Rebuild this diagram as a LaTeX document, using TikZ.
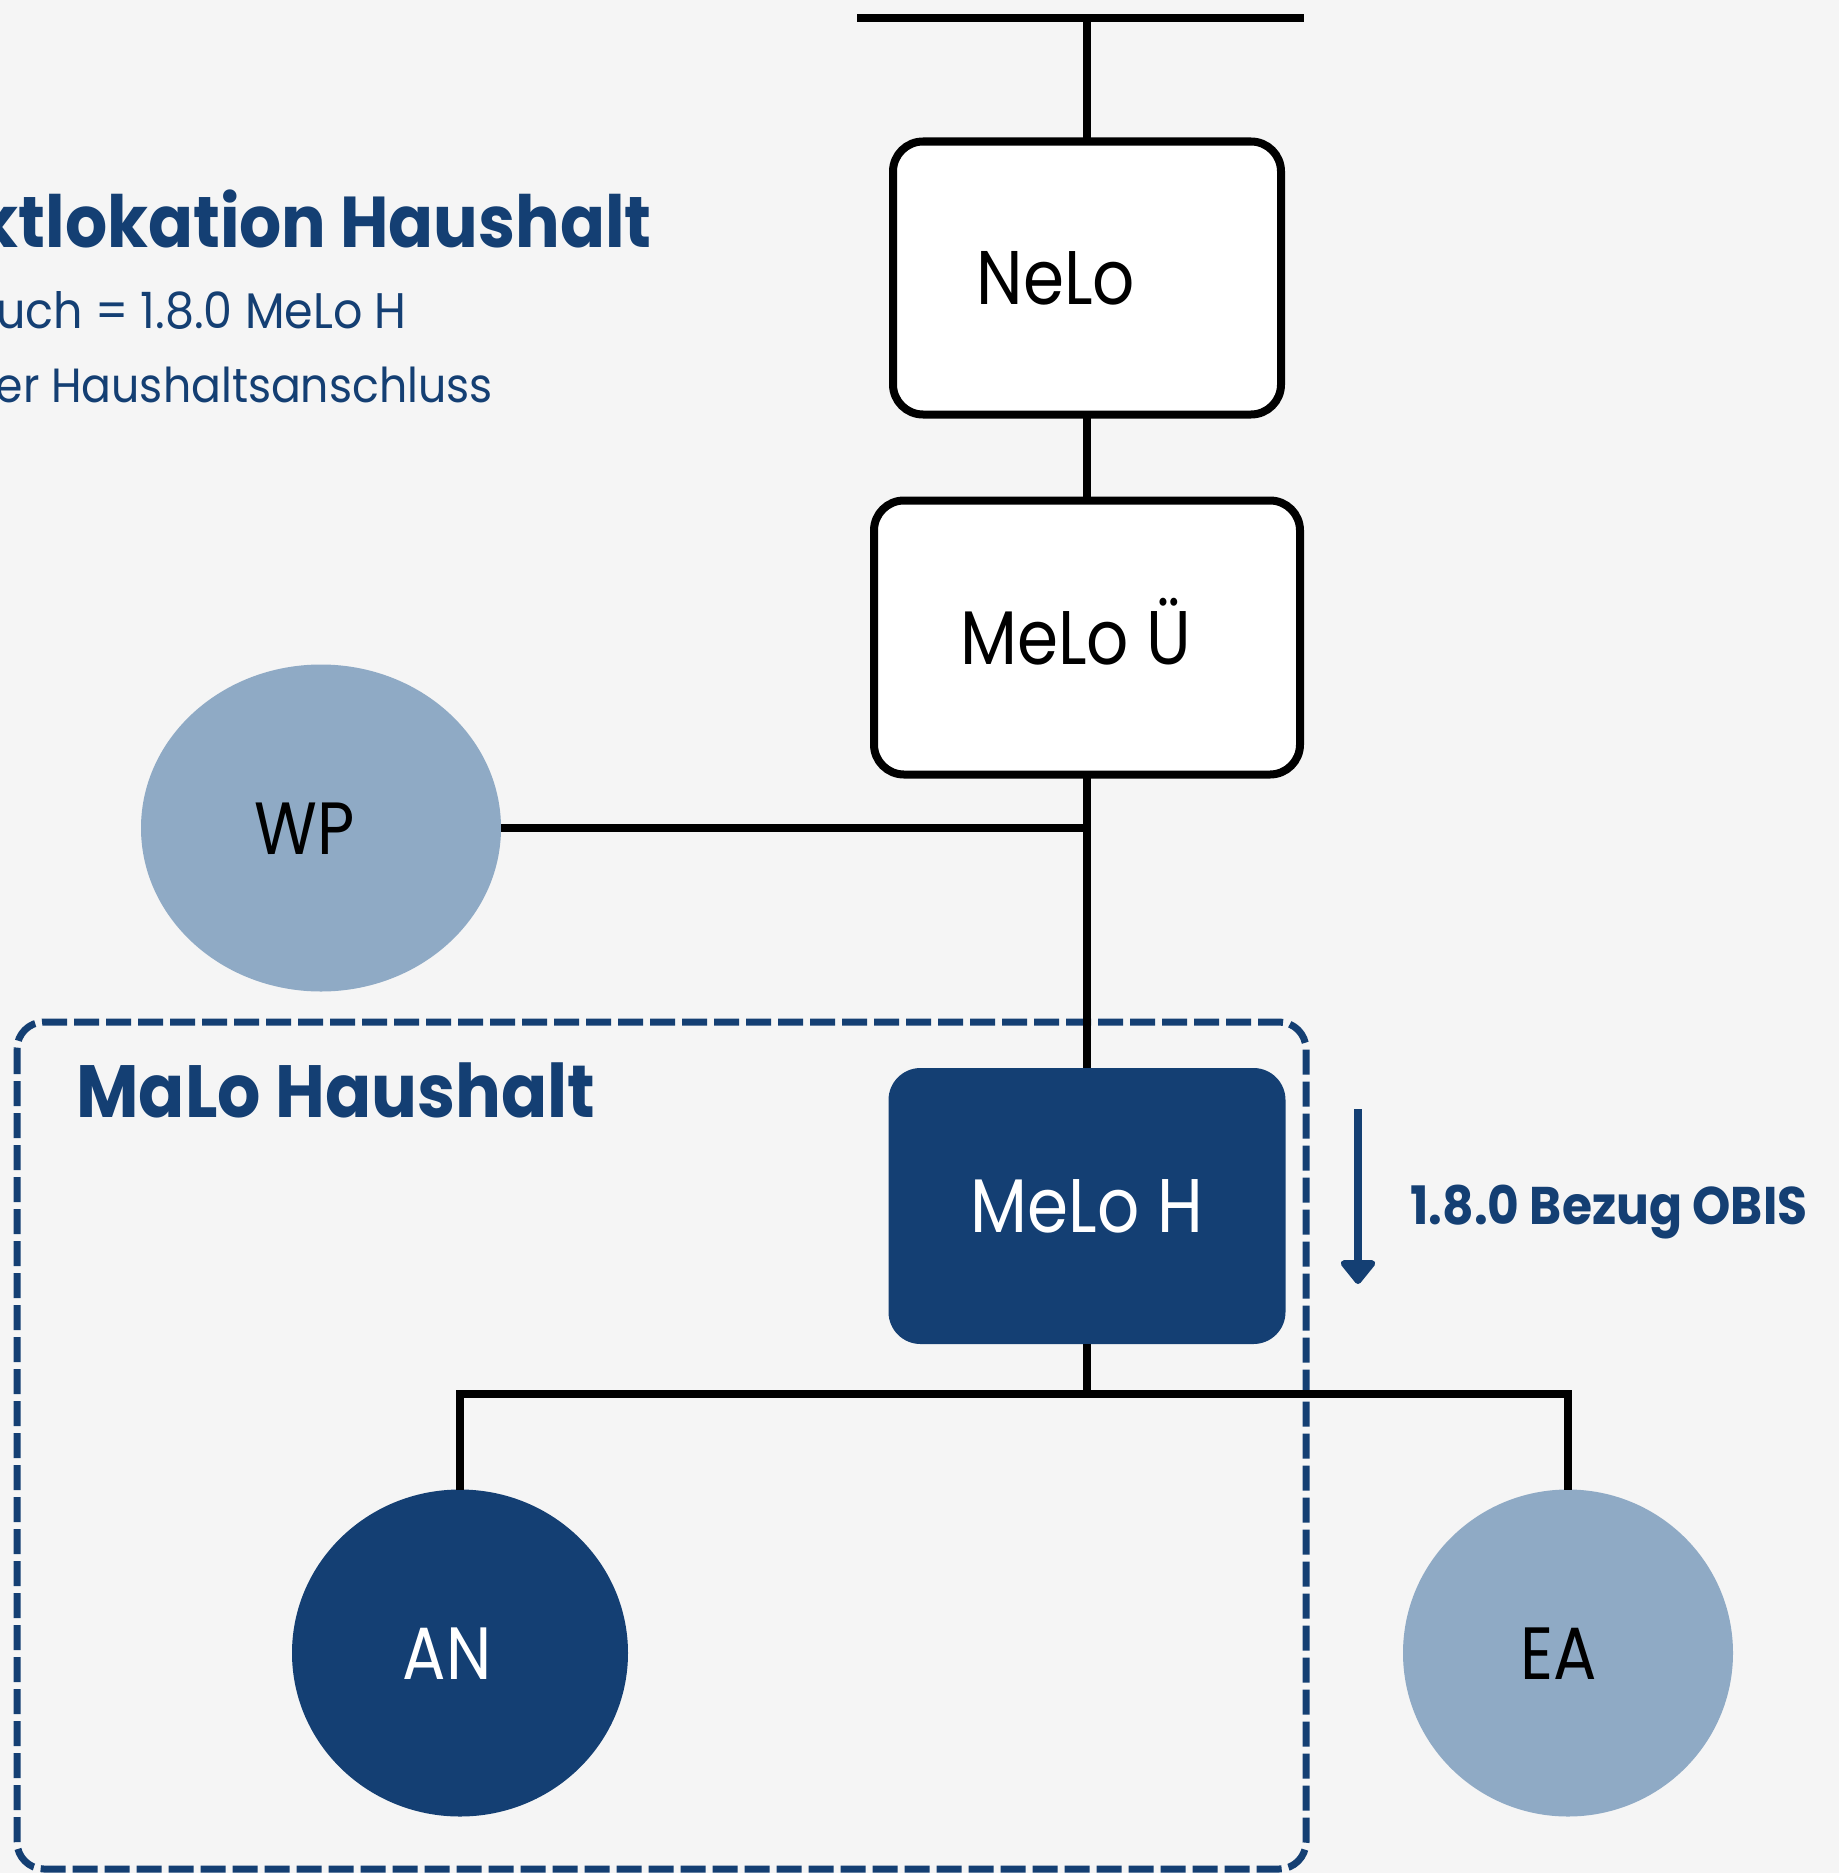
\documentclass[tikz,border=0pt]{standalone}
\usepackage{fontspec}
\setmainfont[FakeStretch=0.92]{Poppins}
\newfontfamily\bookfont[FakeStretch=0.87]{Poppins}
\newfontfamily\subfont[FakeStretch=0.92]{Poppins}
\usetikzlibrary{shapes.geometric,arrows.meta}
\definecolor{bgcol}{HTML}{F5F5F5}
\definecolor{navy}{HTML}{143F73}
\definecolor{paleblue}{HTML}{8FAAC5}
\tikzset{
  wire/.style={line width=3.75pt},
  busline/.style={line width=4pt},
  frame/.style={navy, line width=3.5pt, dash pattern=on 12.5pt off 3.5pt, rounded corners=13.5pt},
  flow/.style={navy, line width=4pt, -{Triangle[width=20pt,length=13pt,round]}},
  melobox/.style={rectangle, rounded corners=15pt, inner sep=0pt, outer sep=0pt,
    minimum height=137pt, font=\bookfont\fontsize{38}{38}\selectfont,
    text height=26.5pt, text depth=0pt},
  whitebox/.style={melobox, draw, line width=4pt, fill=white},
  navybox/.style={melobox, fill=navy, text=white, rounded corners=16pt},
  device/.style={ellipse, inner sep=0pt, outer sep=0pt, minimum height=163.5pt,
    font=\bookfont\fontsize{37}{37}\selectfont, text height=26pt, text depth=0pt},
  headline/.style={font=\bfseries\fontsize{37}{37}\selectfont, text=navy, inner sep=0pt},
  subline/.style={font=\subfont\fontsize{25}{25}\selectfont, text=navy, inner sep=0pt},
  obis/.style={font=\bfseries\fontsize{26.5}{26.5}\selectfont, text=navy, inner sep=0pt}
}
\begin{document}
\begin{tikzpicture}[x=0.5pt,y=-0.5pt]
\useasboundingbox (0,0) rectangle (1839,1873);
\fill[bgcol] (0,0) rectangle (1839,1873);

% MaLo frame
\draw[frame] (17,1022) rectangle (1306,1869);
\node[headline, anchor=base west] (malo) at (76,1117) {MaLo Haushalt};

% heading top left
\node[headline, font=\bfseries\fontsize{36}{36}\selectfont, anchor=base east] (title) at (652,247) {ktlokation Haushalt};
\node[subline, anchor=base east] (sub1) at (407,328) {uch = 1.8.0 MeLo H};
\node[subline, font=\subfont\fontsize{24}{24}\selectfont, anchor=base east] (sub2) at (493,402) {er Haushaltsanschluss};

% bus bar
\coordinate (busL) at (857,18);
\coordinate (busR) at (1304,18);
\coordinate (busT) at (1087,18);
\draw[busline] (busL) -- (busR);

% locations
\node[whitebox, minimum width=194pt, minimum height=136.5pt] (nelo) at (1087,278) {NeLo\hspace*{31pt}};
\node[whitebox, minimum width=213pt] (melou) at (1087,637.5) {MeLo Ü\hspace*{11pt}};
\node[navybox, minimum width=198.5pt, minimum height=138pt] (meloh) at (1087,1206) {MeLo H};
\node[device, fill=paleblue, minimum width=180pt] (wp) at (321,828) {WP\hspace*{16pt}};
\node[device, fill=navy, text=white, minimum width=168pt] (an) at (460,1653) {AN\hspace*{13pt}};
\node[device, fill=paleblue, minimum width=165pt] (ea) at (1568,1653) {EA\hspace*{9pt}};
\coordinate (tee) at (1087,1394);

% lines
\draw[wire] (busT) -- (nelo);
\draw[wire] (nelo) -- (melou);
\draw[wire] (melou) -- (meloh);
\draw[wire] (wp) -- (wp -| melou);
\draw[wire] (meloh) -- (tee);
\draw[wire] (an) |- (tee) -| (ea);

% energy flow
\coordinate (arrTop) at (1358,1109);
\coordinate (arrTip) at (1358,1284);
\draw[flow] (arrTop) -- (arrTip);
\node[obis, anchor=base west] (bezug) at (1410,1224) {1.8.0 Bezug OBIS};
\end{tikzpicture}
\end{document}
